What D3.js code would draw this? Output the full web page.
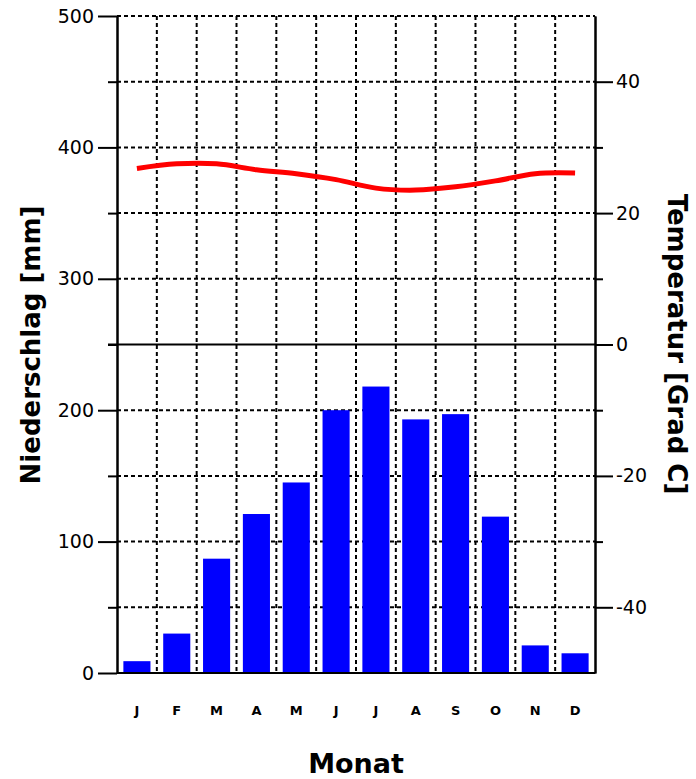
<!DOCTYPE html>
<html>
<head>
<meta charset="utf-8">
<script src="https://cdn.jsdelivr.net/npm/d3@7"></script>
<style>
  body { margin: 0; background: #fff; }
  svg { display: block; }
</style>
</head>
<body>
<div id="chart"></div>
<script>
// Climate diagram: precipitation bars + temperature line
let width = 696;
let height = 779;

// Data
let months = ["J", "F", "M", "A", "M", "J", "J", "A", "S", "O", "N", "D"];
let precipitation = [9, 30, 87, 121, 145, 200, 218, 193, 197, 119, 21, 15];
let temperature = [26.8, 27.5, 27.5, 26.6, 26.0, 25.1, 23.8, 23.5, 24.0, 24.9, 26.0, 26.1];

let precipTicks = [0, 100, 200, 300, 400, 500];
let precipMinor = [50, 150, 250, 350, 450];
let tempTicks = [-40, -20, 0, 20, 40];
let tempMinor = [-30, -10, 10, 30];

// Plot area
let plotLeft = 117, plotRight = 595, plotTop = 16, plotBottom = 673;

let idx = d3.range(months.length);

// band per month, grid lines on band edges
let x = d3.scaleBand()
.domain(idx)
.range([plotLeft, plotRight])
.padding(0);

// bars are narrower than the band
let xBar = d3.scaleBand()
.domain(idx)
.range([plotLeft, plotRight])
.paddingInner(0.32)
.paddingOuter(0.16);

let yP = d3.scaleLinear().domain([0, 500]).range([plotBottom, plotTop]);
let yT = d3.scaleLinear().domain([-50, 50]).range([plotBottom, plotTop]);

let svg = d3.select('#chart')
.append('svg')
.attr('width', width)
.attr('height', height);

// Order matters: grid, bars, line, axes
let grid = svg.append('g');
let bars = svg.append('g');
let lineG = svg.append('g');
let axes = svg.append('g');

// Horizontal dashed grid (every 50 mm, 250 mm is drawn solid later)
grid.selectAll('.hgrid')
.data(d3.range(50, 501, 50).filter(function(d){ return d != 250; }))
.enter()
.append('line')
.attr('class', 'hgrid')
.attr('x1', plotLeft)
.attr('x2', plotRight)
.attr('y1', function(d){ return yP(d); })
.attr('y2', function(d){ return yP(d); })
.attr('stroke', '#000')
.attr('stroke-width', 2)
.attr('stroke-dasharray', '4,3');

// Vertical dashed grid between months
grid.selectAll('.vgrid')
.data(idx.slice(1))
.enter()
.append('line')
.attr('class', 'vgrid')
.attr('x1', function(d){ return x(d); })
.attr('x2', function(d){ return x(d); })
.attr('y1', plotTop)
.attr('y2', plotBottom)
.attr('stroke', '#000')
.attr('stroke-width', 2)
.attr('stroke-dasharray', '4,3');

// Precipitation bars
bars.selectAll('rect')
.data(precipitation)
.enter()
.append('rect')
.attr('x', function(d, i){ return xBar(i); })
.attr('width', xBar.bandwidth())
.attr('y', function(d){ return yP(d); })
.attr('height', function(d){ return yP(0) - yP(d); })
.attr('fill', '#0000ff');

// Temperature line
let line = d3.line()
.x(function(d, i){ return x(i) + x.bandwidth() / 2; })
.y(function(d){ return yT(d); })
.curve(d3.curveCardinal);

lineG.append('path')
.datum(temperature)
.attr('d', line)
.attr('fill', 'none')
.attr('stroke', '#ff0000')
.attr('stroke-width', 5);

// Solid 0 degree line
axes.append('line')
.attr('x1', plotLeft - 9)
.attr('x2', plotRight)
.attr('y1', yT(0))
.attr('y2', yT(0))
.attr('stroke', '#000')
.attr('stroke-width', 2);

// Bottom line
axes.append('line')
.attr('x1', plotLeft)
.attr('x2', plotRight)
.attr('y1', plotBottom)
.attr('y2', plotBottom)
.attr('stroke', '#000')
.attr('stroke-width', 2);

// Left axis
axes.append('g')
.attr('transform', 'translate(' + plotLeft + ',0)')
.call(d3.axisLeft(yP).tickValues(precipTicks).tickSize(19).tickSizeOuter(0).tickPadding(4));

axes.append('g')
.attr('transform', 'translate(' + plotLeft + ',0)')
.call(d3.axisLeft(yP).tickValues(precipMinor).tickSize(9).tickSizeOuter(0).tickFormat(''));

// Right axis
axes.append('g')
.attr('transform', 'translate(' + plotRight + ',0)')
.call(d3.axisRight(yT).tickValues(tempTicks).tickSize(18).tickSizeOuter(0).tickPadding(3)
  .tickFormat(function(d){ return String(d); }));

axes.append('g')
.attr('transform', 'translate(' + plotRight + ',0)')
.call(d3.axisRight(yT).tickValues(tempMinor).tickSize(8).tickSizeOuter(0).tickFormat(''));

axes.selectAll('.domain, .tick line')
.attr('stroke', '#000')
.attr('stroke-width', 2);

axes.selectAll('.tick text')
.attr('fill', '#000')
.style('font-family', 'DejaVu Sans')
.style('font-size', '19px');

// Month labels
axes.selectAll('.month')
.data(months)
.enter()
.append('text')
.attr('class', 'month')
.attr('x', function(d, i){ return x(i) + x.bandwidth() / 2; })
.attr('y', 710)
.attr('text-anchor', 'middle')
.attr('dominant-baseline', 'central')
.style('font-family', 'DejaVu Sans')
.style('font-weight', 'bold')
.style('font-size', '13px')
.text(function(d){ return d; });

// Axis titles
svg.append('text')
.attr('transform', 'translate(' + ((plotLeft + plotRight) / 2) + ',773)')
.attr('text-anchor', 'middle')
.style('font-family', 'DejaVu Sans')
.style('font-weight', 'bold')
.style('font-size', '27px')
.text('Monat');

svg.append('text')
.attr('transform', 'translate(31,345) rotate(-90)')
.attr('text-anchor', 'middle')
.attr('dominant-baseline', 'central')
.style('font-family', 'DejaVu Sans')
.style('font-weight', 'bold')
.style('font-size', '26px')
.text('Niederschlag [mm]');

svg.append('text')
.attr('transform', 'translate(677,344) rotate(90)')
.attr('text-anchor', 'middle')
.attr('dominant-baseline', 'central')
.style('font-family', 'DejaVu Sans')
.style('font-weight', 'bold')
.style('font-size', '26px')
.text('Temperatur [Grad C]');
</script>
</body>
</html>
